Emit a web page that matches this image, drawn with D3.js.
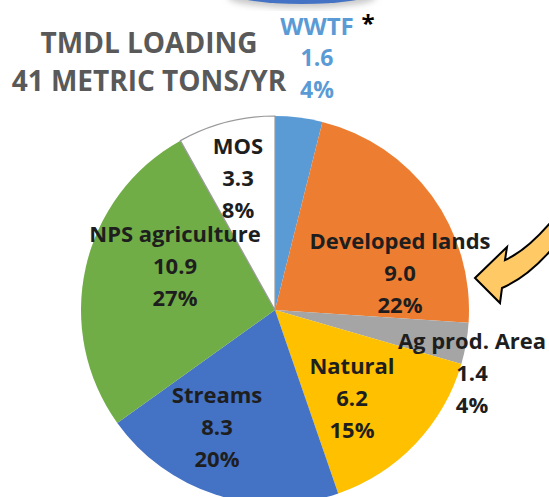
<!DOCTYPE html>
<html>
<head>
<meta charset="utf-8">
<script src="https://cdn.jsdelivr.net/npm/d3@7"></script>
<style>
  body { margin: 0; background: #fff; }
  svg { display: block; font-family: "Open Sans", sans-serif; font-weight: bold; }
</style>
</head>
<body>
<svg width="549" height="497"></svg>
<script>
// TMDL loading by source (metric tons/yr), clockwise from 12 o'clock
const categories = ["WWTF", "Developed lands", "Ag prod. Area", "Natural", "Streams", "NPS agriculture", "MOS"];
const loads = [1.6, 9.0, 1.4, 6.2, 8.3, 10.9, 3.3];
const percents = ["4%", "22%", "4%", "15%", "20%", "27%", "8%"];
const titleLines = ["TMDL LOADING", "41 METRIC TONS/YR"];

const colors = ["#5b9bd5", "#ed7d31", "#a5a5a5", "#ffc000", "#4472c4", "#70ad47", "#ffffff"];
// label middle-line offsets from the pie centre
const labelOffsets = [[42, -252], [125, -37], [197, 63], [77, 88], [-58, 117], [-100, -44], [-37, -132]];

const svg = d3.select("svg");
const cx = 275, cy = 310, radius = 194;
const lineGap = 32;

// piece of another chart peeking in at the top
const defs = svg.append("defs");
defs.append("filter").attr("id", "blur")
  .append("feGaussianBlur").attr("stdDeviation", 3);
svg.append("ellipse")
  .attr("cx", 302).attr("cy", -3).attr("rx", 74).attr("ry", 11)
  .attr("fill", "#c8c8c8").attr("filter", "url(#blur)");
svg.append("ellipse")
  .attr("cx", 302).attr("cy", -6).attr("rx", 68).attr("ry", 10)
  .attr("fill", "#4472c4");

const pie = d3.pie().sort(null).value(d => d);
const arc = d3.arc().innerRadius(0).outerRadius(radius);
const arcs = pie(loads);

const g = svg.append("g").attr("transform", `translate(${cx},${cy})`);

g.selectAll("path")
  .data(arcs)
  .enter().append("path")
  .attr("d", arc)
  .attr("fill", (d, i) => colors[i])
  .attr("stroke", (d, i) => i === 6 ? "#9a9a9a" : "none")
  .attr("stroke-width", 1.2);

// slice labels: name, value, percent
arcs.forEach((d, i) => {
  const [dx, dy] = labelOffsets[i];
  const lines = [categories[i], loads[i].toFixed(1), percents[i]];
  const col = i === 0 ? "#5b9bd5" : "#1e1e1e";
  const size = i === 0 ? 23 : 22;
  lines.forEach((t, k) => {
    g.append("text")
      .attr("x", dx)
      .attr("y", dy + (k - 1) * lineGap)
      .attr("dy", "0.36em")
      .attr("text-anchor", "middle")
      .attr("font-size", k === 0 && i === 0 ? 24 : size)
      .attr("fill", col)
      .text(t);
  });
});

// asterisk next to WWTF
svg.append("text")
  .attr("x", 368).attr("y", 20).attr("dy", "0.5em")
  .attr("text-anchor", "middle")
  .attr("font-size", 24).attr("fill", "#000")
  .text("*");

// title
titleLines.forEach((t, k) => {
  svg.append("text")
    .attr("x", 149)
    .attr("y", 43 + k * 38)
    .attr("dy", "0.36em")
    .attr("text-anchor", "middle")
    .attr("font-size", 28)
    .attr("fill", "#595959")
    .text(t);
});

// curved call-out arrow pointing at Developed lands
svg.append("path")
  .attr("d", "M475,278 L507,247 L505,260 Q528,250 556,216 L556,244 Q530,276 502,288 L500,303 Z")
  .attr("fill", "#ffc966")
  .attr("stroke", "#000")
  .attr("stroke-width", 2)
  .attr("stroke-linejoin", "miter");
</script>
</body>
</html>
